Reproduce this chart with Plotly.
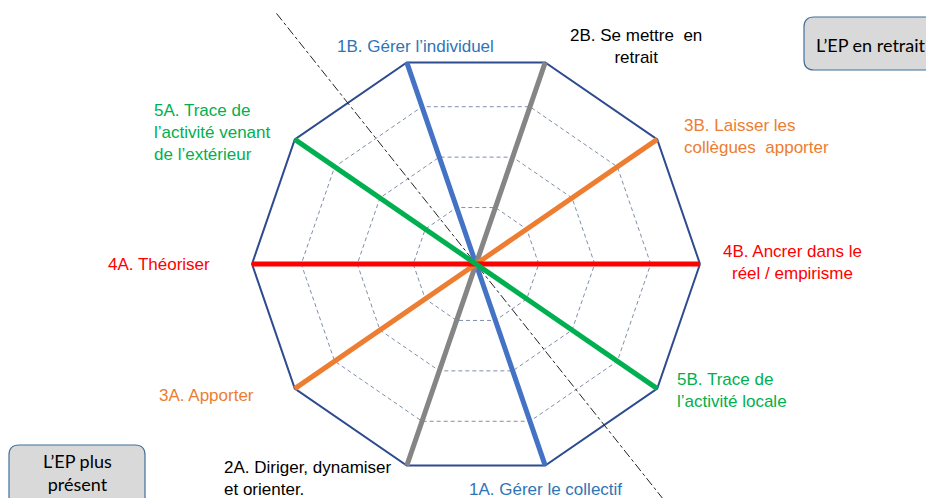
import math
import plotly.graph_objects as go

# ---------------- data ----------------
axis_codes = ["4B", "3B", "2B", "1B", "5A", "4A", "3A", "2A", "1A", "5B"]  # counter-clockwise from the right
axis_labels = [
    "4B. Ancrer dans le<br>réel / empirisme",
    "3B. Laisser les<br>collègues  apporter",
    "2B. Se mettre  en<br>retrait",
    "1B. Gérer l’individuel",
    "5A. Trace de<br>l’activité venant<br>de l’extérieur",
    "4A. Théoriser",
    "3A. Apporter",
    "2A. Diriger, dynamiser<br>et orienter.",
    "1A. Gérer le collectif",
    "5B. Trace de<br>l’activité locale",
]
outer_value = 1.0
grid_levels = [0.28, 0.53, 0.78]
spoke_pairs = [("1A", "1B"), ("2A", "2B"), ("3A", "3B"), ("4A", "4B"), ("5A", "5B")]
spoke_values = [1.0, 1.0, 1.0, 1.0, 1.0]
divider_angle_deg = 127.0
divider_extent = 1.48
box_texts = ["L’EP en retrait", "L’EP plus<br>présent"]

# ---------------- styles / layout ----------------
W, H = 934, 498            # window size
OFF = 8                    # page body margin
FW, FH = W - OFF, H - OFF  # figure size
CX, CY = 476, 264          # pixel centre (window coords)
RX, RY = 224, 212          # pixels per unit radius
spoke_colors = {"1": "#4472C4", "2": "#858585", "3": "#ED7D31", "4": "#FF0000", "5": "#00B050"}
label_colors = {"1": "#2E75B6", "2": "#000000", "3": "#ED7D31", "4": "#FF0000", "5": "#00B050"}
label_pos = {  # window pixel x, pixel y (middle), xanchor
    "4B": (792, 262, "center"),
    "3B": (683, 136, "left"),
    "2B": (636, 46, "center"),
    "1B": (415, 47, "center"),
    "5A": (153, 133, "left"),
    "4A": (159, 264, "center"),
    "3A": (206, 395, "center"),
    "2A": (223, 478, "left"),
    "1A": (545, 489, "center"),
    "5B": (676, 390, "left"),
}


def px2paper(px, py):
    return (px - OFF) / FW, 1 - (py - OFF) / FH


n = len(axis_codes)
angles = [2 * math.pi * k / n for k in range(n)]


def polar_xy(r, th):
    return r * math.cos(th), r * math.sin(th)


fig = go.Figure()

# dashed inner grid decagons
for lvl in grid_levels:
    xs, ys = [], []
    for th in angles + [angles[0]]:
        x, y = polar_xy(lvl, th)
        xs.append(x)
        ys.append(y)
    fig.add_trace(go.Scatter(x=xs, y=ys, mode="lines",
                             line=dict(color="#7F8FA9", width=1, dash="4px,3px"),
                             hoverinfo="skip"))

# outer decagon
xs, ys = [], []
for th in angles + [angles[0]]:
    x, y = polar_xy(outer_value, th)
    xs.append(x)
    ys.append(y)
fig.add_trace(go.Scatter(x=xs, y=ys, mode="lines",
                         line=dict(color="#2F4B8F", width=2), hoverinfo="skip"))

# dash-dot divider
th_d = math.radians(divider_angle_deg)
x1, y1 = polar_xy(divider_extent, th_d)
x2, y2 = polar_xy(divider_extent, th_d + math.pi)
fig.add_trace(go.Scatter(x=[x1, x2], y=[y1, y2], mode="lines",
                         line=dict(color="#222222", width=1, dash="dashdot"),
                         hoverinfo="skip"))

# coloured spokes
for (a, b), v in zip(spoke_pairs, spoke_values):
    ta = angles[axis_codes.index(a)]
    tb = angles[axis_codes.index(b)]
    xa, ya = polar_xy(v, ta)
    xb, yb = polar_xy(v, tb)
    fig.add_trace(go.Scatter(x=[xa, xb], y=[ya, yb], mode="lines",
                             line=dict(color=spoke_colors[a[0]], width=5),
                             hoverinfo="skip"))

# labels
annotations = []
for code, text in zip(axis_codes, axis_labels):
    px, py, xa = label_pos[code]
    ax_, ay_ = px2paper(px, py)
    annotations.append(dict(
        x=ax_, y=ay_, xref="paper", yref="paper",
        text=text, showarrow=False, xanchor=xa, yanchor="middle",
        align="left" if xa == "left" else "center", borderpad=0,
        font=dict(family="Liberation Sans, Arial, sans-serif", size=17,
                  color=label_colors[code[0]])))

# rounded boxes
boxes = [(804, 17, 945, 70), (9, 445, 145, 510)]
box_text_pos = [(871, 45), (77, 472)]
shapes = []


def rrect(x0, y0, x1, y1, r):
    def P(x, y):
        u, v = px2paper(x, y)
        return f"{u:.5f},{v:.5f}"
    return (f"M {P(x0 + r, y0)} L {P(x1 - r, y0)} Q {P(x1, y0)} {P(x1, y0 + r)} "
            f"L {P(x1, y1 - r)} Q {P(x1, y1)} {P(x1 - r, y1)} L {P(x0 + r, y1)} "
            f"Q {P(x0, y1)} {P(x0, y1 - r)} L {P(x0, y0 + r)} Q {P(x0, y0)} {P(x0 + r, y0)} Z")


for (bx0, by0, bx1, by1), t, (tx, ty) in zip(boxes, box_texts, box_text_pos):
    shapes.append(dict(type="path", xref="paper", yref="paper",
                       path=rrect(bx0, by0, bx1, by1, 10),
                       fillcolor="#D9D9D9", line=dict(color="#41719C", width=1.2)))
    ux, uy = px2paper(tx, ty)
    annotations.append(dict(x=ux, y=uy, xref="paper", yref="paper",
                            text=t, showarrow=False, xanchor="center", yanchor="middle",
                            borderpad=0,
                            font=dict(family="Lato, Carlito, sans-serif", size=18, color="#000000")))

fig.update_layout(
    width=FW, height=FH, margin=dict(l=0, r=0, t=0, b=0),
    paper_bgcolor="white", plot_bgcolor="white", showlegend=False,
    xaxis=dict(range=[-(CX - OFF) / RX, (W - CX) / RX], visible=False, fixedrange=True),
    yaxis=dict(range=[-(H - CY) / RY, (CY - OFF) / RY], visible=False, fixedrange=True),
    annotations=annotations, shapes=shapes,
)

fig.write_html("out.html")
